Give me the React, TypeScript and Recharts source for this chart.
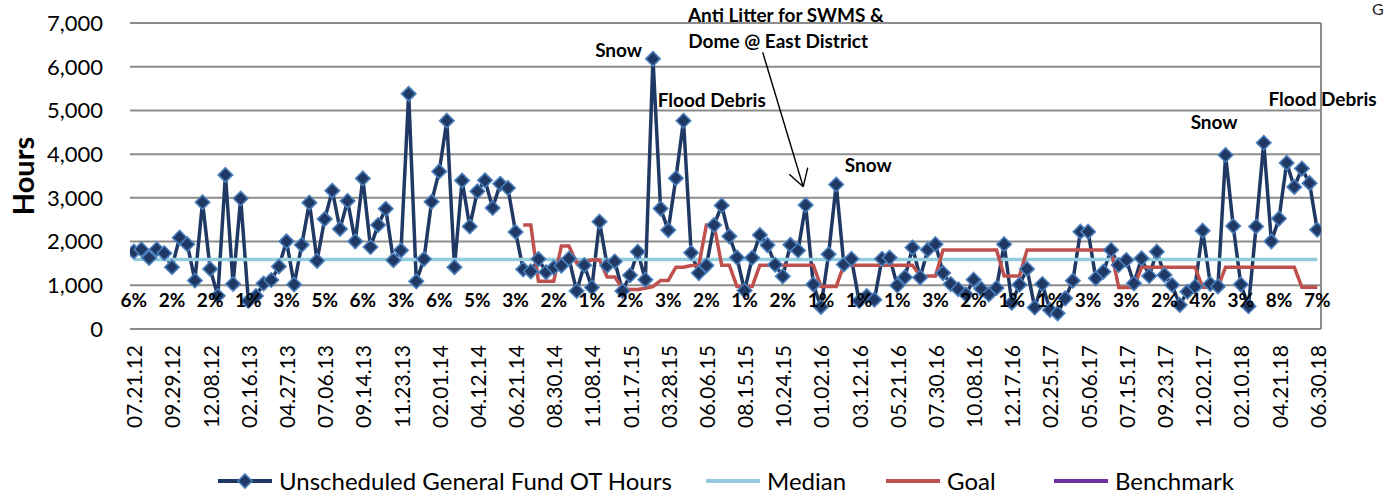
import React from 'react';
import { LineChart, Line, XAxis, YAxis, CartesianGrid, ReferenceDot, ReferenceLine, Legend } from 'recharts';

const tickLabels = [
  '07.21.12', '09.29.12', '12.08.12', '02.16.13', '04.27.13', '07.06.13', '09.14.13', '11.23.13',
  '02.01.14', '04.12.14', '06.21.14', '08.30.14', '11.08.14', '01.17.15', '03.28.15', '06.06.15',
  '08.15.15', '10.24.15', '01.02.16', '03.12.16', '05.21.16', '07.30.16', '10.08.16', '12.17.16',
  '02.25.17', '05.06.17', '07.15.17', '09.23.17', '12.02.17', '02.10.18', '04.21.18', '06.30.18',
];

const otHours = [
  1770, 1820, 1625, 1825, 1735, 1415, 2090, 1940, 1110, 2900,
  1375, 760, 3525, 1030, 2985, 640, 755, 1040, 1120, 1430,
  2005, 1020, 1925, 2890, 1560, 2515, 3165, 2290, 2930, 2005,
  3445, 1875, 2380, 2750, 1575, 1800, 5380, 1090, 1600, 2910,
  3605, 4765, 1415, 3395, 2345, 3150, 3400, 2770, 3320, 3225,
  2220, 1365, 1318, 1600, 1300, 1405, 1450, 1610, 870, 1460,
  950, 2455, 1450, 1545, 870, 1230, 1768, 1128, 6180, 2755,
  2262, 3450, 4764, 1745, 1280, 1450, 2378, 2825, 2120, 1635,
  880, 1630, 2150, 1920, 1470, 1205, 1925, 1795, 2835, 1020,
  505, 1710, 3305, 1478, 1605, 640, 753, 671, 1604, 1632,
  995, 1185, 1862, 1180, 1815, 1940, 1280, 1030, 910, 790,
  1128, 918, 792, 940, 1940, 600, 1015, 1375, 492, 1030,
  435, 358, 702, 1106, 2227, 2227, 1159, 1312, 1808, 1464,
  1579, 1045, 1617, 1213, 1769, 1236, 1007, 549, 854, 968,
  2250, 1030, 975, 3980, 2355, 1020, 520, 2345, 4260, 2005,
  2525, 3800, 3250, 3670, 3337, 2270,
];

const goalHours: (number | null)[] = [
  null, null, null, null, null, null, null, null, null, null,
  null, null, null, null, null, null, null, null, null, null,
  null, null, null, null, null, null, null, null, null, null,
  null, null, null, null, null, null, null, null, null, null,
  null, null, null, null, null, null, null, null, null, null,
  null, 2380, 2380, 1090, 1090, 1090, 1900, 1900, 1510, 1540,
  1580, 1580, 1190, 1190, 930, 905, 905, 930, 968, 1110,
  1110, 1415, 1415, 1450, 1450, 2380, 2380, 1460, 1460, 975,
  975, 975, 1460, 1460, 1460, 1460, 1460, 1460, 1460, 1460,
  975, 975, 975, 1460, 1460, 1460, 1460, 1460, 1460, 1460,
  1460, 1460, 1460, 1210, 1210, 1210, 1810, 1810, 1810, 1810,
  1810, 1810, 1810, 1810, 1210, 1210, 1210, 1810, 1810, 1810,
  1810, 1810, 1810, 1810, 1810, 1810, 1810, 1810, 1810, 950,
  950, 950, 1415, 1415, 1415, 1415, 1415, 1415, 1415, 1415,
  955, 955, 955, 1415, 1415, 1415, 1415, 1415, 1415, 1415,
  1415, 1415, 1415, 955, 955, 955,
];

const medianHours = 1590;

const pctLabels = [6, 2, 2, 1, 3, 5, 6, 3, 6, 5, 3, 2, 1, 2, 3, 2, 1, 2, 1, 1, 1, 3, 2, 1, 1, 3, 3, 2, 4, 3, 8, 7];

// annotation texts: [text, x index, y hours]
const annotations: [string, number, number][] = [
  ['Snow', 63.5, 6380],
  ['Flood Debris', 75.7, 5240],
  ['Anti Litter for SWMS &', 85.4, 7180],
  ['Dome @ East District', 84.4, 6590],
  ['Snow', 96.2, 3750],
  ['Snow', 141.5, 4735],
  ['Flood Debris', 155.7, 5260],
];

// arrow segments: [x1, y1, x2, y2] in index / hours
const arrowSegments: [number, number, number, number][] = [
  [82.37, 6330, 87.68, 3255],
  [85.85, 3540, 87.68, 3255],
  [88.27, 3690, 87.68, 3255],
];

const legendOrder = ['ot', 'median', 'goal', 'benchmark'];
const legendItemWidths = [488, 180, 168, 200];

const data = otHours.map((v, i) => ({
  i,
  ot: v,
  median: medianHours,
  goal: goalHours[i],
  benchmark: null as number | null,
}));

const FONT = 'Lato, "Noto Sans", sans-serif';
const NAVY = '#1F3864';
const DIAMOND_EDGE = '#4A7EBB';

const Diamond = (props: any) => {
  const { cx, cy } = props;
  if (cx == null || cy == null) return <g />;
  const r = 7.2;
  return (
    <path
      d={`M${cx},${cy - r} L${cx + r},${cy} L${cx},${cy + r} L${cx - r},${cy} Z`}
      fill={NAVY}
      stroke={DIAMOND_EDGE}
      strokeWidth={1.6}
    />
  );
};

const DateTick = (props: any) => {
  const { x, y, payload } = props;
  const label = tickLabels[Math.round(payload.value / 5)];
  return (
    <text
      x={x}
      y={y}
      transform={`rotate(-90, ${x}, ${y})`}
      textAnchor="end"
      dominantBaseline="central"
      fontFamily={FONT}
      fontSize={21}
      fill="#000"
    >
      {label}
    </text>
  );
};

const HoursLabel = (props: any) => {
  const vb = props.viewBox || {};
  const x = vb.x + 22;
  const y = vb.y + vb.height / 2;
  return (
    <text
      x={x}
      y={y}
      transform={`rotate(-90, ${x}, ${y})`}
      textAnchor="middle"
      dominantBaseline="central"
      fontFamily={FONT}
      fontSize={29}
      fontWeight={700}
      fill="#000"
    >
      Hours
    </text>
  );
};

const LegendContent = (props: any) => {
  const payload = [...(props.payload || [])].sort(
    (a: any, b: any) => legendOrder.indexOf(a.dataKey) - legendOrder.indexOf(b.dataKey)
  );
  return (
    <div
      style={{
        display: 'flex',
        alignItems: 'center',
        justifyContent: 'flex-start',
        paddingLeft: 218,
        fontFamily: FONT,
        fontSize: 24,
        color: '#000',
        whiteSpace: 'nowrap',
      }}
    >
      {payload.map((entry: any, k: number) => (
        <div key={entry.value} style={{ display: 'flex', alignItems: 'center', width: legendItemWidths[k] }}>
          <svg width={54} height={18}>
            <line x1={0} y1={9} x2={54} y2={9} stroke={entry.color} strokeWidth={4} />
            {entry.dataKey === 'ot' && (
              <path d="M27,2 L34,9 L27,16 L20,9 Z" fill={NAVY} stroke={DIAMOND_EDGE} strokeWidth={1.6} />
            )}
          </svg>
          <span style={{ marginLeft: 7 }}>{entry.value}</span>
        </div>
      ))}
    </div>
  );
};

export default function App() {
  return (
    <div style={{ position: 'absolute', left: 0, top: 0, width: 1388, height: 495, background: '#fff', overflow: 'hidden' }}>
      <LineChart width={1388} height={495} data={data} margin={{ top: 23, right: 0, bottom: 0, left: 0 }}>
        <CartesianGrid horizontal={true} vertical={false} stroke="#8C8C8C" strokeWidth={2} />
        <XAxis
          dataKey="i"
          type="number"
          domain={[-0.5, 155.5]}
          ticks={tickLabels.map((_, k) => k * 5)}
          interval={0}
          tick={<DateTick />}
          tickLine={false}
          axisLine={false}
          tickMargin={10}
          height={166}
          allowDataOverflow
        />
        <YAxis
          domain={[0, 7000]}
          ticks={[0, 1000, 2000, 3000, 4000, 5000, 6000, 7000]}
          tickFormatter={(v: number) => v.toLocaleString('en-US')}
          axisLine={false}
          tickLine={false}
          tickMargin={21}
          width={130}
          tick={{ fontFamily: FONT, fontSize: 22, fill: '#000' }}
          label={{ value: 'Hours', content: HoursLabel }}
        />
        <YAxis
          yAxisId="right"
          orientation="right"
          domain={[0, 10]}
          ticks={[0, 1, 2, 3, 4, 5, 6, 7, 8, 9, 10]}
          width={67}
          axisLine={{ stroke: '#8C8C8C', strokeWidth: 2 }}
          tickLine={{ stroke: '#8C8C8C', strokeWidth: 2 }}
          tickSize={8}
          tick={() => <g />}
        />
        <Legend
          verticalAlign="middle"
          align="center"
          layout="horizontal"
          wrapperStyle={{ top: 466, left: 0, width: 1388 }}
          content={<LegendContent />}
        />
        <Line
          name="Unscheduled General Fund OT Hours"
          dataKey="ot"
          type="linear"
          stroke={NAVY}
          strokeWidth={3.5}
          dot={<Diamond />}
          activeDot={false}
          isAnimationActive={false}
        />
        <Line
          name="Median"
          dataKey="median"
          type="linear"
          stroke="#93CDDD"
          strokeWidth={3.5}
          dot={false}
          activeDot={false}
          isAnimationActive={false}
        />
        <Line
          name="Goal"
          dataKey="goal"
          type="linear"
          stroke="#C0504D"
          strokeWidth={3.5}
          dot={false}
          activeDot={false}
          isAnimationActive={false}
        />
        <Line
          name="Benchmark"
          dataKey="benchmark"
          type="linear"
          stroke="#7030A0"
          strokeWidth={3.5}
          dot={false}
          activeDot={false}
          isAnimationActive={false}
        />
        {pctLabels.map((p, k) => (
          <ReferenceDot
            key={`pct-${k}`}
            x={k * 5}
            y={663}
            r={0}
            fill="none"
            stroke="none"
            ifOverflow="visible"
            label={{ value: `${p}%`, position: 'center', fill: '#000', fontSize: 19, fontWeight: 700, fontFamily: FONT }}
          />
        ))}
        {annotations.map(([text, x, y], k) => (
          <ReferenceDot
            key={`ann-${k}`}
            x={x}
            y={y}
            r={0}
            fill="none"
            stroke="none"
            ifOverflow="visible"
            label={{ value: text, position: 'center', fill: '#000', fontSize: 19, fontWeight: 700, fontFamily: FONT }}
          />
        ))}
        {arrowSegments.map(([x1, y1, x2, y2], k) => (
          <ReferenceLine
            key={`arrow-${k}`}
            segment={[{ x: x1, y: y1 }, { x: x2, y: y2 }]}
            stroke="#000"
            strokeWidth={1.4}
            ifOverflow="visible"
          />
        ))}
      </LineChart>
      <div style={{ position: 'absolute', left: 1372, top: 0, fontFamily: FONT, fontSize: 16, lineHeight: '18px', color: '#222' }}>G</div>
    </div>
  );
}
